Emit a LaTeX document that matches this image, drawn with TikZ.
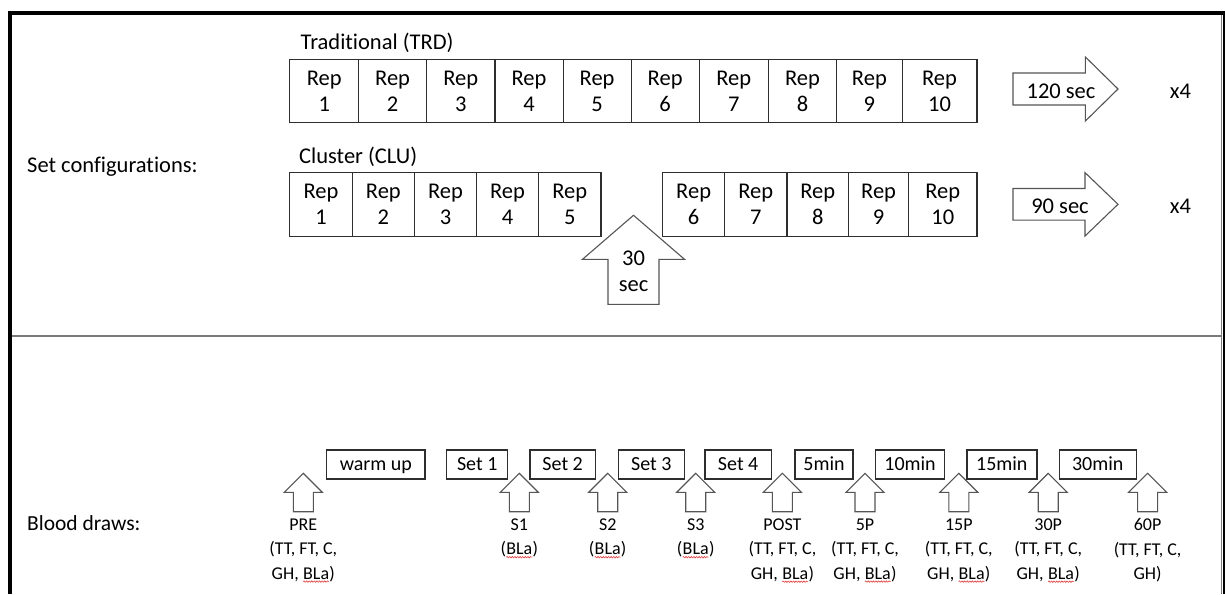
\documentclass[tikz,border=0pt]{standalone}
\usepackage{fontspec}
\setmainfont[Ligatures=NoCommon]{Carlito}
\usetikzlibrary{decorations.pathmorphing}

\definecolor{boxline}{HTML}{2E2E2E}
\definecolor{arrline}{HTML}{555555}
\definecolor{sepline}{HTML}{7A7A7A}
\definecolor{squig}{HTML}{E23B3B}

\newcommand\topfont{\fontsize{22.5}{26}\selectfont}
\newcommand\cellfont{\fontsize{20}{24}\selectfont}
\newcommand\lblfont{\fontsize{18}{24.5}\selectfont}

% spell-check style wavy underline under "BLa"
\newcommand\bla{\tikz[baseline=(w.base)]{\node[inner sep=0pt,outer sep=0pt](w){BLa};
  \draw[squig,line width=0.6pt,decorate,decoration={snake,amplitude=0.7pt,segment length=2.6pt}]
    ([yshift=-2.4pt]w.base west)--([yshift=-2.4pt]w.base east);}}

\tikzset{
  repbox/.style={draw=boxline, line width=1.2pt, inner sep=0pt, align=center, font=\topfont},
  phasebox/.style={draw=boxline, line width=1.4pt, inner sep=0pt, font=\cellfont,
    text height=12.9pt, text depth=0pt},
  toptext/.style={inner sep=0pt, font=\topfont, align=center},
  lbl/.style={inner sep=0pt, font=\lblfont, align=center, anchor=north},
  blockarrow/.style={draw=arrline, line width=1.1pt, fill=white, line join=miter},
}

% cell: name, left, right, top, bottom, text
\newcommand\repcell[6]{\node[repbox, minimum width={(#3)-(#2)}, minimum height={(#5)-(#4)}]
  (#1) at ({((#2)+(#3))/2},{((#4)+(#5))/2}) {#6};}
\newcommand\phasecell[4]{\node[phasebox, minimum width={(#3)-(#2)}, minimum height=28.7]
  (#1) at ({((#2)+(#3))/2},464.5) {#4};}
% upward block arrow: centre x, tip y, shoulder y, bottom y, head half width, shaft half width
\newcommand\blockup[6]{\draw[blockarrow] (#1,#2) -- ({#1+#5},#3) -- ({#1+#6},#3) -- ({#1+#6},#4)
  -- ({#1-#6},#4) -- ({#1-#6},#3) -- ({#1-#5},#3) -- cycle;}
% rightward block arrow: left x, head base x, tip x, centre y, head half height, shaft half height
\newcommand\blockright[6]{\draw[blockarrow] (#1,{#4-#6}) -- (#2,{#4-#6}) -- (#2,{#4-#5}) -- (#3,#4)
  -- (#2,{#4+#5}) -- (#2,{#4+#6}) -- (#1,{#4+#6}) -- cycle;}

\begin{document}
\begin{tikzpicture}[x=1pt,y=-1pt]
\useasboundingbox (0,0) rectangle (1225,594);
\fill[white] (0,0) rectangle (1225,594);

% frame and section divider
\fill[black] (8,11) rectangle (1225,15);
\fill[black] (8,11) rectangle (12,594);
\draw[sepline, line width=0.9pt] (1221.8,15) -- (1221.8,594);
\fill[black] (1222.8,11) rectangle (1225,594);
\draw[sepline, line width=1.6pt] (12,335.8) -- (1222,335.8);

% ---------- set configurations ----------
\node[toptext, anchor=base west] (setcfg) at (27,172.5) {Set configurations:};

% traditional
\node[toptext, anchor=base west] (trd) at (300.5,50) {Traditional (TRD)};
\repcell{t1}{289.8}{358.6}{59.3}{122.7}{Rep\\1}
\repcell{t2}{358.6}{426.6}{59.3}{122.7}{Rep\\2}
\repcell{t3}{426.6}{495.0}{59.3}{122.7}{Rep\\3}
\repcell{t4}{495.0}{563.1}{59.3}{122.7}{Rep\\4}
\repcell{t5}{563.1}{631.1}{59.3}{122.7}{Rep\\5}
\repcell{t6}{631.1}{699.2}{59.3}{122.7}{Rep\\6}
\repcell{t7}{699.2}{768.2}{59.3}{122.7}{Rep\\7}
\repcell{t8}{768.2}{836.7}{59.3}{122.7}{Rep\\8}
\repcell{t9}{836.7}{902.1}{59.3}{122.7}{Rep\\9}
\repcell{t10}{902.1}{977.0}{59.3}{122.7}{Rep\\10}
\blockright{1013}{1085.4}{1118}{89}{32}{16}
\node[toptext] (trdrest) at (1061,91.7) {120 sec};
\node[toptext] (trdx) at (1180.4,91.7) {x4};

% cluster
\node[toptext, anchor=base west] (clu) at (299,163) {Cluster (CLU)};
\repcell{c1}{289.8}{352.3}{172.7}{236.7}{Rep\\1}
\repcell{c2}{352.3}{414.4}{172.7}{236.7}{Rep\\2}
\repcell{c3}{414.4}{476.5}{172.7}{236.7}{Rep\\3}
\repcell{c4}{476.5}{538.5}{172.7}{236.7}{Rep\\4}
\repcell{c5}{538.5}{601.0}{172.7}{236.7}{Rep\\5}
\repcell{c6}{662.6}{724.7}{172.7}{236.7}{Rep\\6}
\repcell{c7}{724.7}{786.9}{172.7}{236.7}{Rep\\7}
\repcell{c8}{786.9}{848.7}{172.7}{236.7}{Rep\\8}
\repcell{c9}{848.7}{908.5}{172.7}{236.7}{Rep\\9}
\repcell{c10}{908.5}{977.0}{172.7}{236.7}{Rep\\10}
\blockup{633.5}{215.3}{259.3}{304.3}{51}{25.5}
\node[toptext, anchor=north] (intra) at (633.5,250.5) {30\\sec};
\blockright{1013}{1085}{1118}{204.3}{31.7}{15.8}
\node[toptext] (clurest) at (1060,206.7) {90 sec};
\node[toptext] (clux) at (1180.4,206.7) {x4};

% ---------- blood draws ----------
\node[inner sep=0pt, font=\fontsize{21.5}{25}\selectfont, anchor=base west] (blood) at (27,530) {Blood draws:};

\phasecell{wu}{326.7}{425.0}{warm up}
\phasecell{s1}{446.7}{507.7}{Set 1}
\phasecell{s2}{530.0}{595.3}{Set 2}
\phasecell{s3}{618.3}{684.3}{Set 3}
\phasecell{s4}{705.0}{771.3}{Set 4}
\phasecell{m5}{795.1}{853.0}{5min}
\phasecell{m10}{875.4}{944.7}{10min}
\phasecell{m15}{966.8}{1036.8}{15min}
\phasecell{m30}{1059.2}{1136.2}{30min}

\foreach \cx in {303.3,519.3,607.7,695.7,782.4,865.0,958.8,1048.2,1147.6}
  {\blockup{\cx}{473.3}{492.3}{511.7}{19}{10}}

\node[lbl] (lpre)  at (303.3,518.4) {PRE\\(TT, FT, C,\\GH, \bla)};
\node[lbl] (ls1)   at (519.3,518.4) {S1\\(\bla)};
\node[lbl] (ls2)   at (607.7,518.4) {S2\\(\bla)};
\node[lbl] (ls3)   at (695.7,518.4) {S3\\(\bla)};
\node[lbl] (lpost) at (782.4,518.4) {POST\\(TT, FT, C,\\GH, \bla)};
\node[lbl] (l5p)   at (865.0,518.4) {5P\\(TT, FT, C,\\GH, \bla)};
\node[lbl] (l15p)  at (958.8,518.4) {15P\\(TT, FT, C,\\GH, \bla)};
\node[lbl] (l30p)  at (1048.2,518.4) {30P\\(TT, FT, C,\\GH, \bla)};
\node[lbl] (l60p)  at (1147.6,518.4) {60P\\(TT, FT, C,\\GH)};
\end{tikzpicture}
\end{document}
